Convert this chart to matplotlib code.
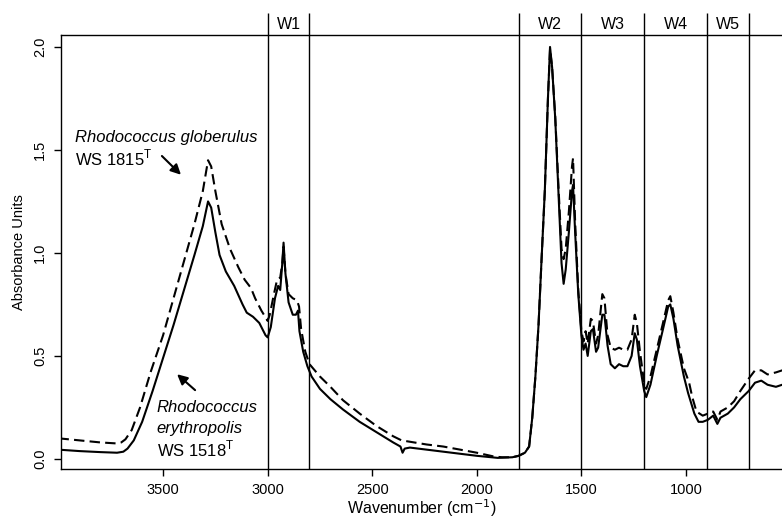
import matplotlib.pyplot as plt

plt.rcParams['font.family'] = ['Liberation Sans', 'DejaVu Sans']

# R. erythropolis WS 1518T (solid line)
wn_ery = [4000, 3900, 3800, 3720, 3690, 3670, 3640, 3600, 3550, 3500, 3450, 3400, 3350, 3310,
          3285, 3270, 3250, 3230, 3200, 3160, 3120, 3100, 3070, 3040, 3010, 3000, 2985, 2965,
          2950, 2940, 2930, 2924, 2915, 2900, 2880, 2865, 2855, 2848, 2830, 2810, 2790, 2750,
          2700, 2640, 2560, 2480, 2400, 2365, 2355, 2345, 2320, 2240, 2160, 2080, 2000, 1900,
          1830, 1800, 1770, 1750, 1735, 1720, 1705, 1690, 1675, 1660, 1650, 1640, 1625, 1610,
          1595, 1585, 1575, 1560, 1545, 1540, 1530, 1515, 1500, 1490, 1480, 1470, 1455, 1445,
          1430, 1420, 1400, 1390, 1375, 1360, 1340, 1320, 1300, 1280, 1260, 1245, 1235, 1220,
          1200, 1190, 1170, 1140, 1110, 1085, 1075, 1060, 1040, 1010, 990, 960, 940, 920, 895,
          870, 850, 835, 800, 770, 740, 700, 670, 640, 610, 570, 540]
ab_ery = [0.045, 0.038, 0.033, 0.03, 0.035, 0.05, 0.09, 0.18, 0.33, 0.49, 0.65, 0.82, 0.99, 1.13,
          1.25, 1.22, 1.10, 0.99, 0.91, 0.84, 0.75, 0.71, 0.69, 0.66, 0.60, 0.59, 0.64, 0.78,
          0.84, 0.82, 0.95, 1.05, 0.90, 0.76, 0.70, 0.70, 0.72, 0.62, 0.52, 0.45, 0.40, 0.34,
          0.29, 0.24, 0.18, 0.13, 0.08, 0.06, 0.03, 0.05, 0.055, 0.045, 0.035, 0.025, 0.015, 0.005,
          0.008, 0.015, 0.03, 0.06, 0.20, 0.40, 0.65, 0.98, 1.30, 1.75, 2.00, 1.90, 1.65, 1.30,
          0.95, 0.85, 0.92, 1.10, 1.30, 1.33, 1.10, 0.80, 0.60, 0.53, 0.56, 0.50, 0.62, 0.63,
          0.52, 0.54, 0.70, 0.70, 0.55, 0.46, 0.44, 0.46, 0.45, 0.45, 0.50, 0.61, 0.58, 0.45,
          0.33, 0.30, 0.36, 0.50, 0.63, 0.74, 0.75, 0.68, 0.55, 0.40, 0.32, 0.22, 0.18, 0.18, 0.19,
          0.21, 0.17, 0.20, 0.22, 0.25, 0.29, 0.33, 0.37, 0.38, 0.36, 0.35, 0.36]

# R. globerulus WS 1815T (dashed line)
wn_glo = [4000, 3900, 3800, 3720, 3700, 3680, 3650, 3610, 3560, 3500, 3450, 3400, 3350, 3310,
          3285, 3270, 3250, 3220, 3180, 3140, 3110, 3080, 3060, 3030, 3000, 2990, 2970, 2955,
          2940, 2930, 2924, 2915, 2900, 2880, 2860, 2850, 2840, 2820, 2800, 2750, 2700, 2640,
          2560, 2480, 2400, 2360, 2300, 2240, 2160, 2080, 2000, 1920, 1880, 1830, 1800, 1770,
          1750, 1735, 1720, 1705, 1690, 1675, 1660, 1650, 1640, 1625, 1610, 1595, 1585, 1575,
          1560, 1545, 1540, 1530, 1515, 1500, 1490, 1480, 1470, 1455, 1445, 1430, 1420, 1400,
          1390, 1375, 1360, 1340, 1320, 1300, 1280, 1260, 1245, 1235, 1220, 1200, 1190, 1170,
          1140, 1110, 1085, 1075, 1060, 1040, 1010, 985, 970, 950, 920, 895, 870, 850, 835, 800,
          770, 740, 700, 670, 640, 610, 570, 540]
ab_glo = [0.10, 0.09, 0.08, 0.075, 0.08, 0.095, 0.14, 0.25, 0.42, 0.60, 0.78, 0.96, 1.14, 1.30,
          1.45, 1.42, 1.30, 1.14, 1.02, 0.93, 0.87, 0.83, 0.78, 0.72, 0.67, 0.70, 0.80, 0.87,
          0.88, 0.95, 1.03, 0.90, 0.80, 0.78, 0.77, 0.74, 0.63, 0.52, 0.46, 0.40, 0.35, 0.285,
          0.22, 0.16, 0.11, 0.09, 0.08, 0.07, 0.06, 0.045, 0.03, 0.012, 0.008, 0.008, 0.015, 0.03,
          0.06, 0.20, 0.40, 0.65, 0.98, 1.30, 1.75, 1.99, 1.90, 1.66, 1.33, 1.02, 0.97, 1.02,
          1.20, 1.42, 1.46, 1.15, 0.82, 0.62, 0.57, 0.62, 0.56, 0.68, 0.67, 0.56, 0.60, 0.80,
          0.78, 0.60, 0.54, 0.53, 0.54, 0.53, 0.53, 0.58, 0.70, 0.66, 0.52, 0.37, 0.34, 0.40,
          0.53, 0.66, 0.77, 0.79, 0.71, 0.58, 0.44, 0.37, 0.30, 0.23, 0.21, 0.22, 0.23, 0.19, 0.23, 0.25,
          0.28, 0.33, 0.39, 0.43, 0.43, 0.41, 0.42, 0.43]

# spectral windows
win_names = ['W1', 'W2', 'W3', 'W4', 'W5']
win_edges = [(3000, 2800), (1800, 1500), (1500, 1200), (1200, 900), (900, 700)]
boundaries = [3000, 2800, 1800, 1500, 1200, 900, 700]

x_ticks = [3500, 3000, 2500, 2000, 1500, 1000]
y_ticks = [0.0, 0.5, 1.0, 1.5, 2.0]

fig = plt.figure(figsize=(7.82, 5.2), dpi=100)
ax = fig.add_axes([61 / 782, 51 / 520, 1 - 61 / 782, 434 / 520])

ax.plot(wn_ery, ab_ery, color='black', lw=1.5)
ax.plot(wn_glo, ab_glo, color='black', lw=1.5, ls=(0, (5, 2.5)))

ax.set_xlim(3988, 541)
ax.set_ylim(-0.049, 2.058)

# window boundaries reach above the frame
ax.vlines(boundaries, -0.049, 2.165, color='black', lw=1.0, clip_on=False)
for name, (a, b) in zip(win_names, win_edges):
    ax.text((a + b) / 2, 2.107, name, ha='center', va='center', fontsize=11.5)

ax.spines['right'].set_visible(False)
for s in ['left', 'bottom', 'top']:
    ax.spines[s].set_linewidth(1.0)

ax.set_xticks(x_ticks)
ax.set_yticks(y_ticks)
ax.set_yticklabels(['%.1f' % v for v in y_ticks], rotation=90, va='center')
ax.tick_params(labelsize=10.5, length=5, width=1.0, direction='out')
ax.tick_params(axis='x', pad=5)
ax.tick_params(axis='y', pad=5)
ax.set_xlabel('Wavenumber (cm$^{-1}$)', fontsize=11.5, labelpad=0)
ax.set_ylabel('Absorbance Units', fontsize=10.5, labelpad=5)

# strain labels
ax.text(3921, 1.56, 'Rhodococcus globerulus', style='italic', fontsize=12, va='center')
ax.text(3921, 1.46, 'WS 1815$^\\mathregular{T}$', fontsize=12, va='center')
ax.annotate('', xy=(3405, 1.37), xytext=(3515, 1.48),
            arrowprops=dict(arrowstyle='-|>', color='black', lw=1.5, mutation_scale=15))

ax.text(3530, 0.25, 'Rhodococcus', style='italic', fontsize=12, va='center')
ax.text(3530, 0.15, 'erythropolis', style='italic', fontsize=12, va='center')
ax.text(3530, 0.05, 'WS 1518$^\\mathregular{T}$', fontsize=12, va='center')
ax.annotate('', xy=(3443, 0.42), xytext=(3337, 0.325),
            arrowprops=dict(arrowstyle='-|>', color='black', lw=1.5, mutation_scale=15))

fig.savefig('out.png', dpi=100)
